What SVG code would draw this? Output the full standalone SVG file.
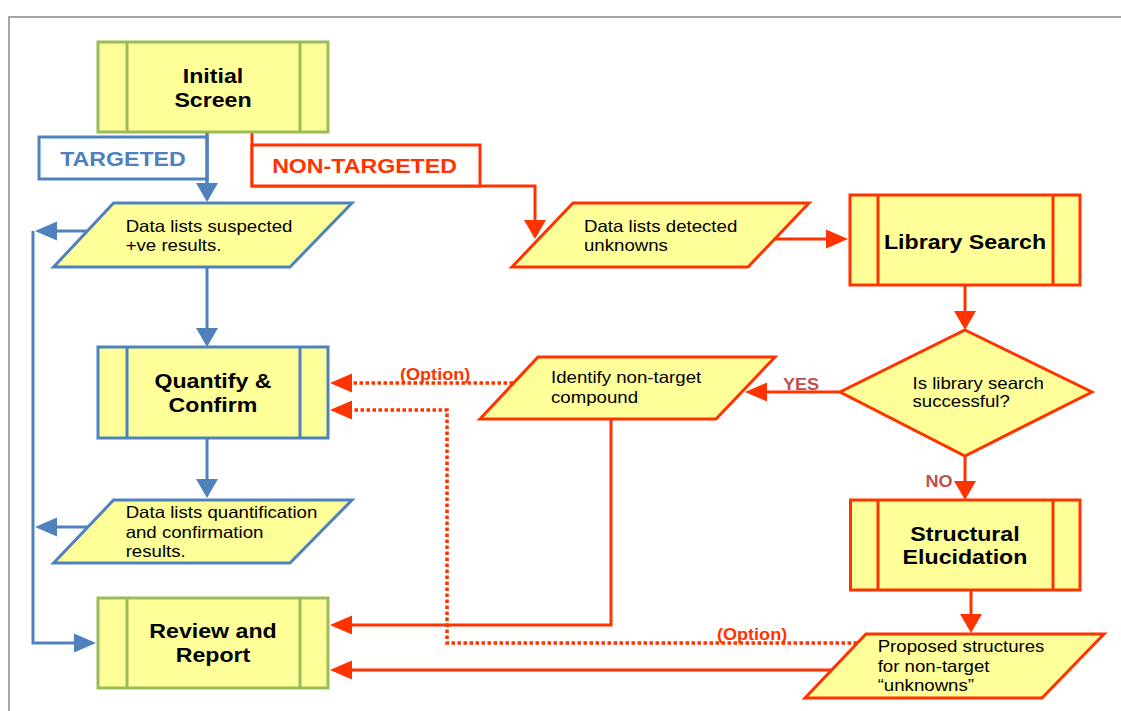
<svg xmlns="http://www.w3.org/2000/svg" width="1121" height="711" viewBox="0 0 1121 711">
<style>
.fill{fill:#FFFF99}
.g{stroke:#9BBB59;stroke-width:3}
.b{stroke:#4F81BD;stroke-width:3}
.r{stroke:#FF3300;stroke-width:3}
.ln{fill:none}
.dot{stroke-width:3.5;stroke-dasharray:3.5 2.5}
.big{font-family:"Liberation Sans",Arial,sans-serif;font-weight:bold;font-size:20.5px;text-anchor:middle}
.sm{font-family:"Liberation Sans",Arial,sans-serif;font-size:16.5px;fill:#000}
.lab{font-family:"Liberation Sans",Arial,sans-serif;font-weight:bold;font-size:16px}
</style>
<defs>
<marker id="bv" markerUnits="userSpaceOnUse" markerWidth="19" markerHeight="22" refX="10" refY="11" orient="auto" overflow="visible"><path d="M0,0 L19,11 L0,22 z" fill="#4F81BD"/></marker>
<marker id="bh" markerUnits="userSpaceOnUse" markerWidth="22" markerHeight="19" refX="12" refY="9.5" orient="auto" overflow="visible"><path d="M0,0 L22,9.5 L0,19 z" fill="#4F81BD"/></marker>
<marker id="rv" markerUnits="userSpaceOnUse" markerWidth="19" markerHeight="22" refX="10" refY="11" orient="auto" overflow="visible"><path d="M0,0 L19,11 L0,22 z" fill="#FF3300"/></marker>
<marker id="rh" markerUnits="userSpaceOnUse" markerWidth="22" markerHeight="19" refX="12" refY="9.5" orient="auto" overflow="visible"><path d="M0,0 L22,9.5 L0,19 z" fill="#FF3300"/></marker>
</defs>
<rect x="0" y="0" width="1121" height="711" fill="#fff"/>
<rect x="9" y="17" width="1200" height="800" fill="none" stroke="#A6A6A6" stroke-width="2"/>

<g id="connectors">
  <path class="ln b" d="M207,133 V193" marker-end="url(#bv)"/>
  <path class="ln b" d="M207,267 V338" marker-end="url(#bv)"/>
  <path class="ln b" d="M207,438 V489" marker-end="url(#bv)"/>
  <path class="ln b" d="M87,231 H45" marker-end="url(#bh)"/>
  <path class="ln b" d="M88,527 H45" marker-end="url(#bh)"/>
  <path class="ln b" d="M33,231 V643 H86" marker-end="url(#bh)"/>
  <path class="ln r" d="M252,133 V186 H535 V230" marker-end="url(#rv)"/>
  <path class="ln r" d="M774,239 H838" marker-end="url(#rh)"/>
  <path class="ln r" d="M965,285 V321" marker-end="url(#rv)"/>
  <path class="ln r" d="M840,392 H755" marker-end="url(#rh)"/>
  <path class="ln r" d="M965,456 V491" marker-end="url(#rv)"/>
  <path class="ln r" d="M971,590 V624" marker-end="url(#rv)"/>
  <path class="ln r" d="M611,419 V625 H340" marker-end="url(#rh)"/>
  <path class="ln r" d="M832,670 H340" marker-end="url(#rh)"/>
  <path class="ln r dot" d="M513,383 H340" marker-end="url(#rh)"/>
  <path class="ln r dot" d="M857,643 H447 V410 H340" marker-end="url(#rh)"/>
  <g transform="scale(1.13,1)">
    <text class="lab" x="692.9" y="390" fill="#C0504D">YES</text>
    <text class="lab" x="819.1" y="487" fill="#C0504D">NO</text>
    <text class="lab" x="354" y="380" fill="#FF3300">(Option)</text>
    <text class="lab" x="634.5" y="640" fill="#FF3300">(Option)</text>
  </g>
</g>

<g id="initial-screen">
  <rect class="fill g" x="98" y="42" width="230" height="90"/>
  <line class="g" x1="127" y1="42" x2="127" y2="132"/>
  <line class="g" x1="300" y1="42" x2="300" y2="132"/>
  <g transform="scale(1.13,1)"><text class="big" x="188.5" y="83">Initial</text><text class="big" x="188.5" y="107">Screen</text></g>
</g>

<g id="targeted">
  <rect x="39" y="137" width="168" height="42" fill="#fff" class="b"/>
  <path class="ln b" d="M207,133 V193"/>
  <g transform="scale(1.13,1)"><text class="big" x="108.8" y="166" fill="#4F81BD">TARGETED</text></g>
</g>

<g id="non-targeted">
  <rect x="252" y="145" width="228" height="41" fill="#fff" class="r"/>
  <g transform="scale(1.13,1)"><text class="big" x="322.6" y="173" fill="#FF3300">NON-TARGETED</text></g>
</g>

<g id="data-suspected">
  <polygon class="fill b" points="113.6,203 352,203 290,267 53.6,267"/>
  <g transform="scale(1.13,1)"><text class="sm" x="111.2" y="232">Data lists suspected</text><text class="sm" x="111.2" y="250.7">+ve results.</text></g>
</g>

<g id="data-detected">
  <polygon class="fill r" points="573,203 809,203 748,267 512,267"/>
  <g transform="scale(1.13,1)"><text class="sm" x="516.8" y="232">Data lists detected</text><text class="sm" x="516.8" y="251">unknowns</text></g>
</g>

<g id="library-search">
  <rect class="fill r" x="850" y="195" width="230" height="90"/>
  <line class="r" x1="878" y1="195" x2="878" y2="285"/>
  <line class="r" x1="1053" y1="195" x2="1053" y2="285"/>
  <g transform="scale(1.13,1)"><text class="big" x="854" y="249">Library Search</text></g>
</g>

<g id="decision">
  <polygon class="fill r" points="965,330 1092,392 965,456 840,392"/>
  <g transform="scale(1.13,1)"><text class="sm" x="807.5" y="389">Is library search</text><text class="sm" x="807.5" y="407">successful?</text></g>
</g>

<g id="quantify">
  <rect class="fill b" x="98" y="347" width="230" height="91"/>
  <line class="b" x1="127" y1="347" x2="127" y2="438"/>
  <line class="b" x1="300" y1="347" x2="300" y2="438"/>
  <g transform="scale(1.13,1)"><text class="big" x="188.5" y="388">Quantify &amp;</text><text class="big" x="188.5" y="412">Confirm</text></g>
</g>

<g id="identify">
  <polygon class="fill r" points="538,357 775,357 716,419 480,419"/>
  <g transform="scale(1.13,1)"><text class="sm" x="487.6" y="383">Identify non-target</text><text class="sm" x="487.6" y="403">compound</text></g>
</g>

<g id="data-quantification">
  <polygon class="fill b" points="113.6,500 352,500 290,563 53.6,563"/>
  <g transform="scale(1.13,1)"><text class="sm" x="111.2" y="518">Data lists quantification</text><text class="sm" x="111.2" y="537.7">and confirmation</text><text class="sm" x="111.2" y="556.7">results.</text></g>
</g>

<g id="structural">
  <rect class="fill r" x="850.5" y="500" width="229.5" height="90"/>
  <line class="r" x1="878" y1="500" x2="878" y2="590"/>
  <line class="r" x1="1053" y1="500" x2="1053" y2="590"/>
  <g transform="scale(1.13,1)"><text class="big" x="854" y="541">Structural</text><text class="big" x="854" y="564">Elucidation</text></g>
</g>

<g id="review">
  <rect class="fill g" x="98" y="598" width="230" height="90"/>
  <line class="g" x1="127" y1="598" x2="127" y2="688"/>
  <line class="g" x1="300" y1="598" x2="300" y2="688"/>
  <g transform="scale(1.13,1)"><text class="big" x="188.5" y="638">Review and</text><text class="big" x="188.5" y="662">Report</text></g>
</g>

<g id="proposed">
  <polygon class="fill r" points="866,634 1104,634 1042,698 805,698"/>
  <g transform="scale(1.13,1)"><text class="sm" x="776.7" y="652">Proposed structures</text><text class="sm" x="776.7" y="671.7">for non-target</text><text class="sm" x="776.7" y="690.7">“unknowns”</text></g>
</g>
</svg>
